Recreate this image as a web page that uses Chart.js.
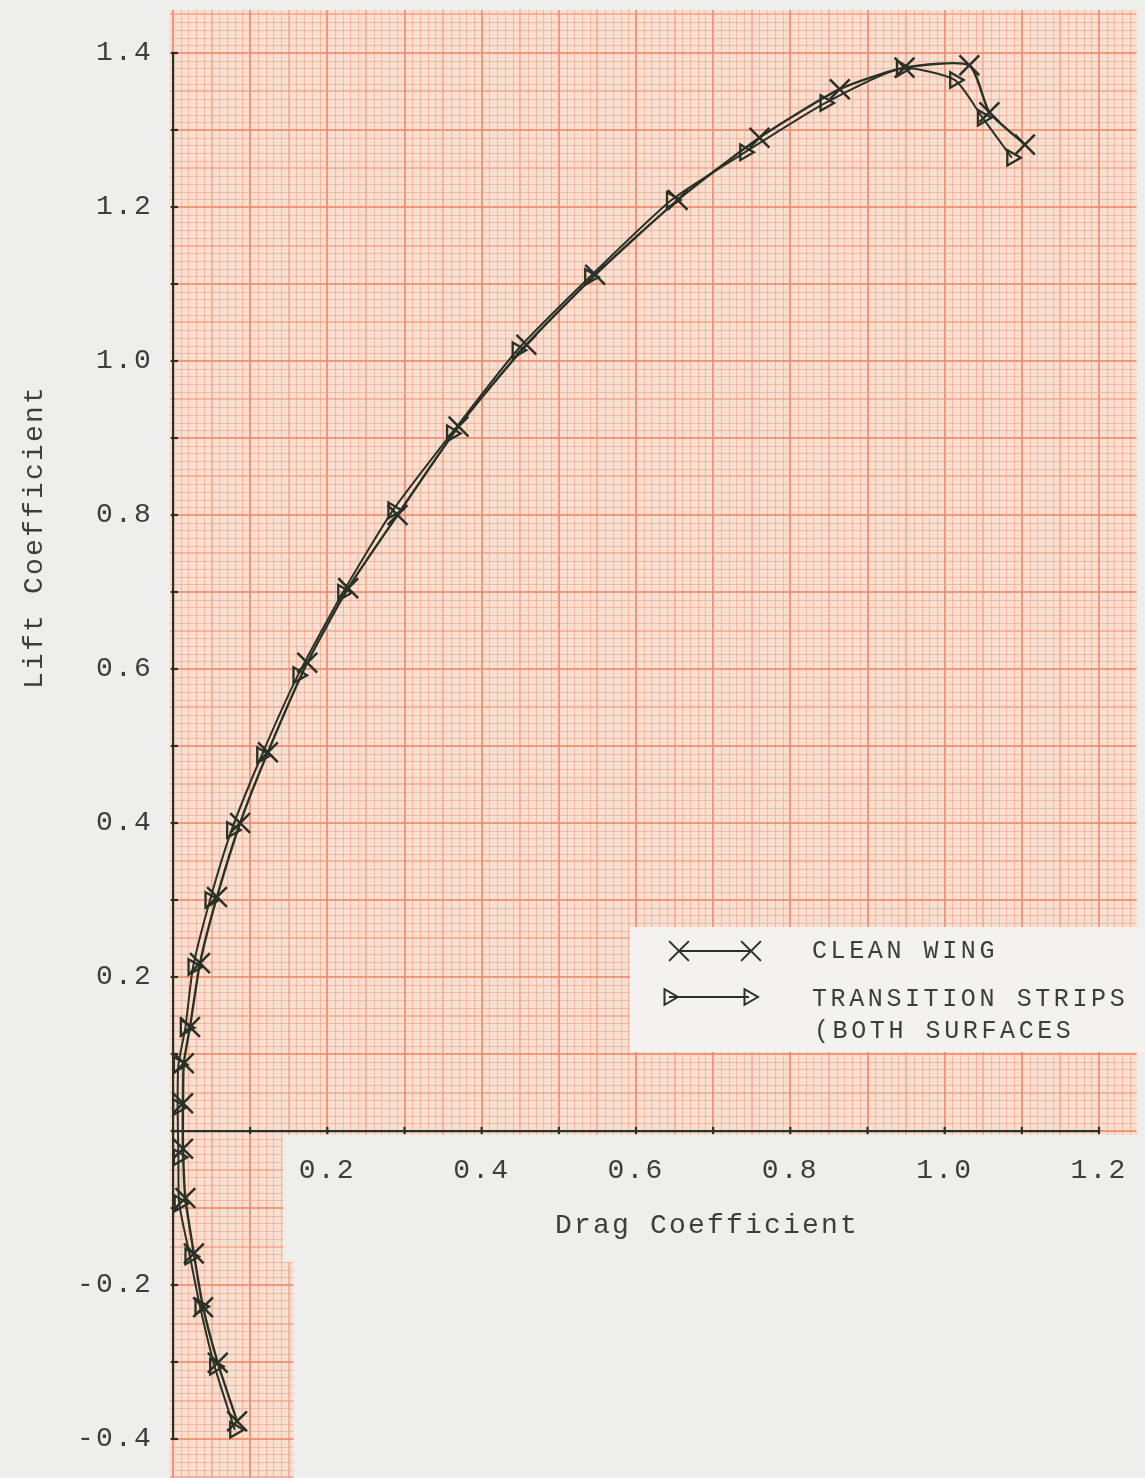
<!DOCTYPE html>
<html>
<head>
<meta charset="utf-8">
<style>
html,body{margin:0;padding:0;background:#eeeeec;}
#wrap{width:1145px;height:1478px;}
</style>
<script src="https://cdn.jsdelivr.net/npm/chart.js@4/dist/chart.umd.min.js"></script>
</head>
<body>
<div id="wrap"><canvas id="c" width="1145" height="1478"></canvas></div>
<script>
// ---- data ----
const cleanCd = [0.083, 0.058, 0.039, 0.027, 0.016, 0.013, 0.013, 0.014, 0.022, 0.035, 0.057, 0.087, 0.123, 0.174, 0.227, 0.291, 0.370, 0.458, 0.547, 0.654, 0.760, 0.864, 0.948, 1.032, 1.058, 1.104];
const cleanCl = [-0.377, -0.301, -0.229, -0.159, -0.087, -0.023, 0.036, 0.088, 0.135, 0.218, 0.304, 0.400, 0.492, 0.608, 0.705, 0.800, 0.915, 1.021, 1.112, 1.209, 1.290, 1.353, 1.381, 1.384, 1.323, 1.281];
const transCd = [0.080, 0.054, 0.035, 0.022, 0.008, 0.007, 0.006, 0.007, 0.016, 0.026, 0.048, 0.076, 0.115, 0.162, 0.220, 0.285, 0.361, 0.446, 0.540, 0.646, 0.741, 0.845, 0.944, 1.013, 1.049, 1.087];
const transCl = [-0.388, -0.306, -0.228, -0.163, -0.094, -0.034, 0.031, 0.086, 0.134, 0.213, 0.300, 0.391, 0.488, 0.592, 0.699, 0.806, 0.906, 1.014, 1.109, 1.209, 1.271, 1.335, 1.380, 1.365, 1.316, 1.264];
const xTickLabels = ['0.2', '0.4', '0.6', '0.8', '1.0', '1.2'];
const yTickLabels = ['-0.4', '-0.2', '0.2', '0.4', '0.6', '0.8', '1.0', '1.2', '1.4'];
const legendLines = ['CLEAN WING', 'TRANSITION STRIPS', '(BOTH SURFACES'];
const xTitle = 'Drag Coefficient';
const yTitle = 'Lift Coefficient';

// ---- style ----
const INK = '#283126';
const TEXT = '#3a3f3a';
const FONT = '"Liberation Mono", "Courier New", "DejaVu Sans Mono", monospace';
const LS = '2.2px';
const PAPER_BG = '#f9dfd0';
const FINE = 'rgba(242,158,134,0.60)';
const MED = 'rgba(240,148,122,0.75)';
const MAJOR = 'rgba(239,140,112,0.85)';
// paper sheet extent in data units
const PAPER = {left: -0.004, right: 1.249, top: 1.456, axisGap: -0.005, strip1: 0.143, stripBreak: -0.170, strip2: 0.156};

function pts(xs, ys) { return xs.map((x, i) => ({x: x, y: ys[i]})); }

const paperPlugin = {
  id: 'paper',
  beforeLayout(chart) { chart.ctx.letterSpacing = LS; },
  beforeDraw(chart) {
    const ctx = chart.ctx;
    ctx.letterSpacing = LS;
    const xs = chart.scales.x, ys = chart.scales.y;
    const W = chart.width, H = chart.height;
    const L = xs.getPixelForValue(PAPER.left), R = xs.getPixelForValue(PAPER.right);
    const T = ys.getPixelForValue(PAPER.top), A = ys.getPixelForValue(PAPER.axisGap);
    const S1 = xs.getPixelForValue(PAPER.strip1), B = ys.getPixelForValue(PAPER.stripBreak);
    const S2 = xs.getPixelForValue(PAPER.strip2);
    ctx.save();
    ctx.fillStyle = '#eeeeec';
    ctx.fillRect(0, 0, W, H);
    ctx.beginPath();
    ctx.moveTo(L, T); ctx.lineTo(R, T); ctx.lineTo(R, A); ctx.lineTo(S1, A);
    ctx.lineTo(S1, B); ctx.lineTo(S2, B); ctx.lineTo(S2, H); ctx.lineTo(L, H); ctx.closePath();
    ctx.fillStyle = PAPER_BG;
    ctx.fill();
    ctx.clip();
    const vx0 = xs.getValueForPixel(L), vx1 = xs.getValueForPixel(R);
    const vy0 = ys.getValueForPixel(H), vy1 = ys.getValueForPixel(T);
    const style = (i) => (i % 10 === 0) ? [MAJOR, 2] : (i % 5 === 0 ? [MED, 1.5] : [FINE, 1]);
    for (let i = Math.floor(vx0 * 100); i <= Math.ceil(vx1 * 100); i++) {
      const [c, w] = style(Math.abs(i));
      let p = Math.round(xs.getPixelForValue(i / 100));
      if (w === 1) p += 0.5;
      ctx.strokeStyle = c; ctx.lineWidth = w;
      ctx.beginPath(); ctx.moveTo(p, T); ctx.lineTo(p, H); ctx.stroke();
    }
    for (let i = Math.floor(vy0 * 100); i <= Math.ceil(vy1 * 100); i++) {
      const [c, w] = style(Math.abs(i));
      let p = Math.round(ys.getPixelForValue(i / 100));
      if (w === 1) p += 0.5;
      ctx.strokeStyle = c; ctx.lineWidth = w;
      ctx.beginPath(); ctx.moveTo(L, p); ctx.lineTo(R, p); ctx.stroke();
    }
    ctx.restore();
  },
  afterDraw(chart) {
    const ctx = chart.ctx;
    const xs = chart.scales.x, ys = chart.scales.y;
    const x0 = xs.getPixelForValue(0), y0 = ys.getPixelForValue(0);
    ctx.save();
    // axis tick marks
    ctx.strokeStyle = INK; ctx.lineWidth = 2.2;
    ys.ticks.forEach(t => {
      const p = ys.getPixelForValue(t.value);
      ctx.beginPath(); ctx.moveTo(x0 - 2, p); ctx.lineTo(x0 + 5, p); ctx.stroke();
    });
    xs.ticks.forEach(t => {
      const p = xs.getPixelForValue(t.value);
      ctx.beginPath(); ctx.moveTo(p, y0 - 4); ctx.lineTo(p, y0 + 3); ctx.stroke();
    });
    // axis titles
    ctx.letterSpacing = LS;
    ctx.fillStyle = TEXT;
    ctx.font = '28px ' + FONT;
    ctx.textAlign = 'center'; ctx.textBaseline = 'middle';
    ctx.fillText(xTitle, 707, 1226);
    ctx.save();
    ctx.translate(35, 537); ctx.rotate(-Math.PI / 2);
    ctx.fillText(yTitle, 0, 0);
    ctx.restore();
    // legend
    ctx.fillStyle = '#f3f2f0';
    ctx.fillRect(630, 927, 515, 125);
    const ds = chart.data.datasets;
    const rows = [{y: 951, d: ds[0], xa: 679, xb: 751}, {y: 997, d: ds[1], xa: 669, xb: 749}];
    rows.forEach(r => {
      ctx.strokeStyle = INK; ctx.lineWidth = 2;
      ctx.beginPath(); ctx.moveTo(r.xa, r.y); ctx.lineTo(r.xb, r.y); ctx.stroke();
      const o = {pointStyle: r.d.pointStyle, radius: r.d.pointRadius, rotation: r.d.pointRotation || 0, borderWidth: 2};
      ctx.fillStyle = 'rgba(0,0,0,0)';
      Chart.helpers.drawPoint(ctx, o, r.xa, r.y);
      Chart.helpers.drawPoint(ctx, o, r.xb, r.y);
    });
    ctx.fillStyle = TEXT;
    ctx.letterSpacing = '3.6px';
    ctx.font = '25px ' + FONT;
    ctx.textAlign = 'left'; ctx.textBaseline = 'middle';
    ctx.fillText(legendLines[0], 812, 951);
    ctx.fillText(legendLines[1], 812, 999);
    ctx.fillText(legendLines[2], 814, 1031);
    ctx.restore();
  }
};

const tickFont = {family: FONT, size: 28};
new Chart(document.getElementById('c').getContext('2d'), {
  type: 'scatter',
  data: {
    datasets: [
      {label: legendLines[0], data: pts(cleanCd, cleanCl), showLine: true, clip: false,
       borderColor: INK, borderWidth: 2.4, tension: 0.2, fill: false,
       pointStyle: 'crossRot', pointRadius: 14, pointBorderWidth: 2.5, pointBorderColor: INK,
       pointBackgroundColor: 'rgba(0,0,0,0)'},
      {label: legendLines[1], data: pts(transCd, transCl), showLine: true, clip: false,
       borderColor: INK, borderWidth: 2, tension: 0.2, fill: false,
       pointStyle: 'triangle', pointRotation: 90, pointRadius: 9, pointBorderWidth: 2.3, pointBorderColor: INK,
       pointBackgroundColor: 'rgba(0,0,0,0)'}
    ]
  },
  options: {
    responsive: false,
    animation: false,
    devicePixelRatio: 1,
    layout: {padding: {left: 0, right: 46, top: 53, bottom: 39}},
    plugins: {legend: {display: false}, tooltip: {enabled: false}},
    scales: {
      x: {
        type: 'linear', min: 0, max: 1.2, position: {y: 0},
        grid: {display: false},
        border: {display: true, color: INK, width: 2.2},
        ticks: {stepSize: 0.1, autoSkip: false, maxRotation: 0, padding: 15, font: tickFont, color: TEXT,
          callback: v => { const s = Number(v).toFixed(1); return xTickLabels.includes(s) ? s : ''; }}
      },
      y: {
        type: 'linear', min: -0.4, max: 1.4, position: 'left',
        grid: {display: false},
        border: {display: true, color: INK, width: 2.2},
        ticks: {stepSize: 0.1, autoSkip: false, padding: 12, font: tickFont, color: TEXT,
          callback: v => { const s = Number(v).toFixed(1); return yTickLabels.includes(s) ? s : ''; }},
        afterFit(s) { s.width = 173; }
      }
    }
  },
  plugins: [paperPlugin]
});
</script>
</body>
</html>
